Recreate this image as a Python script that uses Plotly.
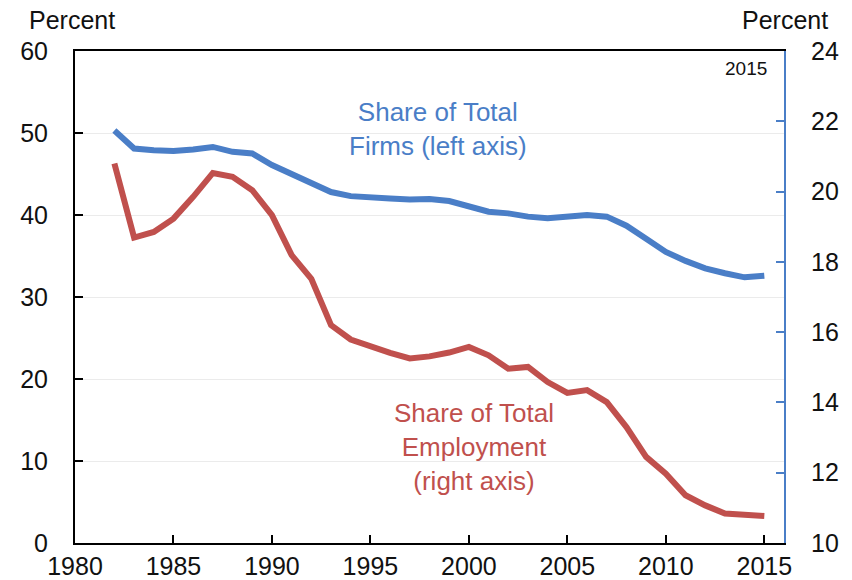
import plotly.graph_objects as go

years = list(range(1982, 2016))
firms_share = [50.3, 48.1, 47.9, 47.8, 48.0, 48.3, 47.7, 47.5, 46.1, 45.0,
               44.0, 42.8, 42.3, 42.1, 42.0, 41.9, 41.95, 41.7, 41.0, 40.4,
               40.2, 39.8, 39.6, 39.8, 40.0, 39.8, 38.7, 37.1, 35.5, 34.4,
               33.5, 32.9, 32.4, 32.6]
employment_share = [20.80, 18.69, 18.85, 19.23, 19.85, 20.53, 20.42, 20.04, 19.33, 18.19,
                    17.52, 16.20, 15.79, 15.58, 15.41, 15.25, 15.31, 15.42, 15.58, 15.34,
                    14.96, 15.01, 14.58, 14.27, 14.35, 14.01, 13.30, 12.45, 11.97, 11.36,
                    11.07, 10.84, 10.79, 10.77]
x_ticks = [1980, 1985, 1990, 1995, 2000, 2005, 2010, 2015]
left_ticks = [0, 10, 20, 30, 40, 50, 60]
right_ticks = [10, 12, 14, 16, 18, 20, 22, 24]

BLUE = "#4A7EC7"
RED = "#C0504D"
FONT = "Arial, Liberation Sans, sans-serif"

fig = go.Figure()
fig.add_trace(go.Scatter(x=years, y=firms_share, mode="lines",
                         line=dict(color=BLUE, width=6), yaxis="y", showlegend=False))
fig.add_trace(go.Scatter(x=years, y=employment_share, mode="lines",
                         line=dict(color=RED, width=6), yaxis="y2", showlegend=False))

# page body has an 8px default margin, so the figure is sized to fit the window
fig.update_layout(
    width=844, height=572,
    margin=dict(l=67, r=68, t=43, b=37, autoexpand=False),
    paper_bgcolor="white", plot_bgcolor="white",
    font=dict(family=FONT, size=25, color="#111111"),
    xaxis=dict(range=[1980, 2016], tickvals=x_ticks, ticks="inside", ticklen=8,
               tickcolor="black", tickwidth=1.5, showline=True, linecolor="black",
               linewidth=2, mirror=True, showgrid=False, zeroline=False,
               ticklabelstandoff=0, automargin=False),
    yaxis=dict(range=[0, 60], tickvals=left_ticks, ticks="inside", ticklen=8,
               tickcolor="black", tickwidth=1.5, showline=True, linecolor="black",
               linewidth=2, showgrid=True, gridcolor="#EBEBEB", gridwidth=1,
               zeroline=False, ticklabelstandoff=20, automargin=False),
    yaxis2=dict(range=[10, 24], tickvals=right_ticks, overlaying="y", side="right",
                ticks="inside", ticklen=8, tickcolor=BLUE, tickwidth=1.5,
                showline=True, linecolor=BLUE, linewidth=2, showgrid=False,
                zeroline=False, ticklabelstandoff=20, automargin=False),
    annotations=[
        dict(text="Share of Total<br>Firms (left axis)", xref="paper", yref="paper",
             x=0.512, y=0.841, showarrow=False, font=dict(color=BLUE, size=26),
             align="center", xanchor="center", yanchor="middle"),
        dict(text="Share of Total<br>Employment<br>(right axis)", xref="paper", yref="paper",
             x=0.563, y=0.195, showarrow=False, font=dict(color=RED, size=26),
             align="center", xanchor="center", yanchor="middle"),
        dict(text="2015", xref="paper", yref="paper", x=0.946, y=0.965,
             showarrow=False, font=dict(size=19), xanchor="center", yanchor="middle"),
        dict(text="Percent", xref="paper", yref="paper", x=-0.004, y=1.062,
             showarrow=False, xanchor="center", yanchor="middle"),
        dict(text="Percent", xref="paper", yref="paper", x=1.001, y=1.062,
             showarrow=False, xanchor="center", yanchor="middle"),
    ],
)

fig.write_html("out.html")
